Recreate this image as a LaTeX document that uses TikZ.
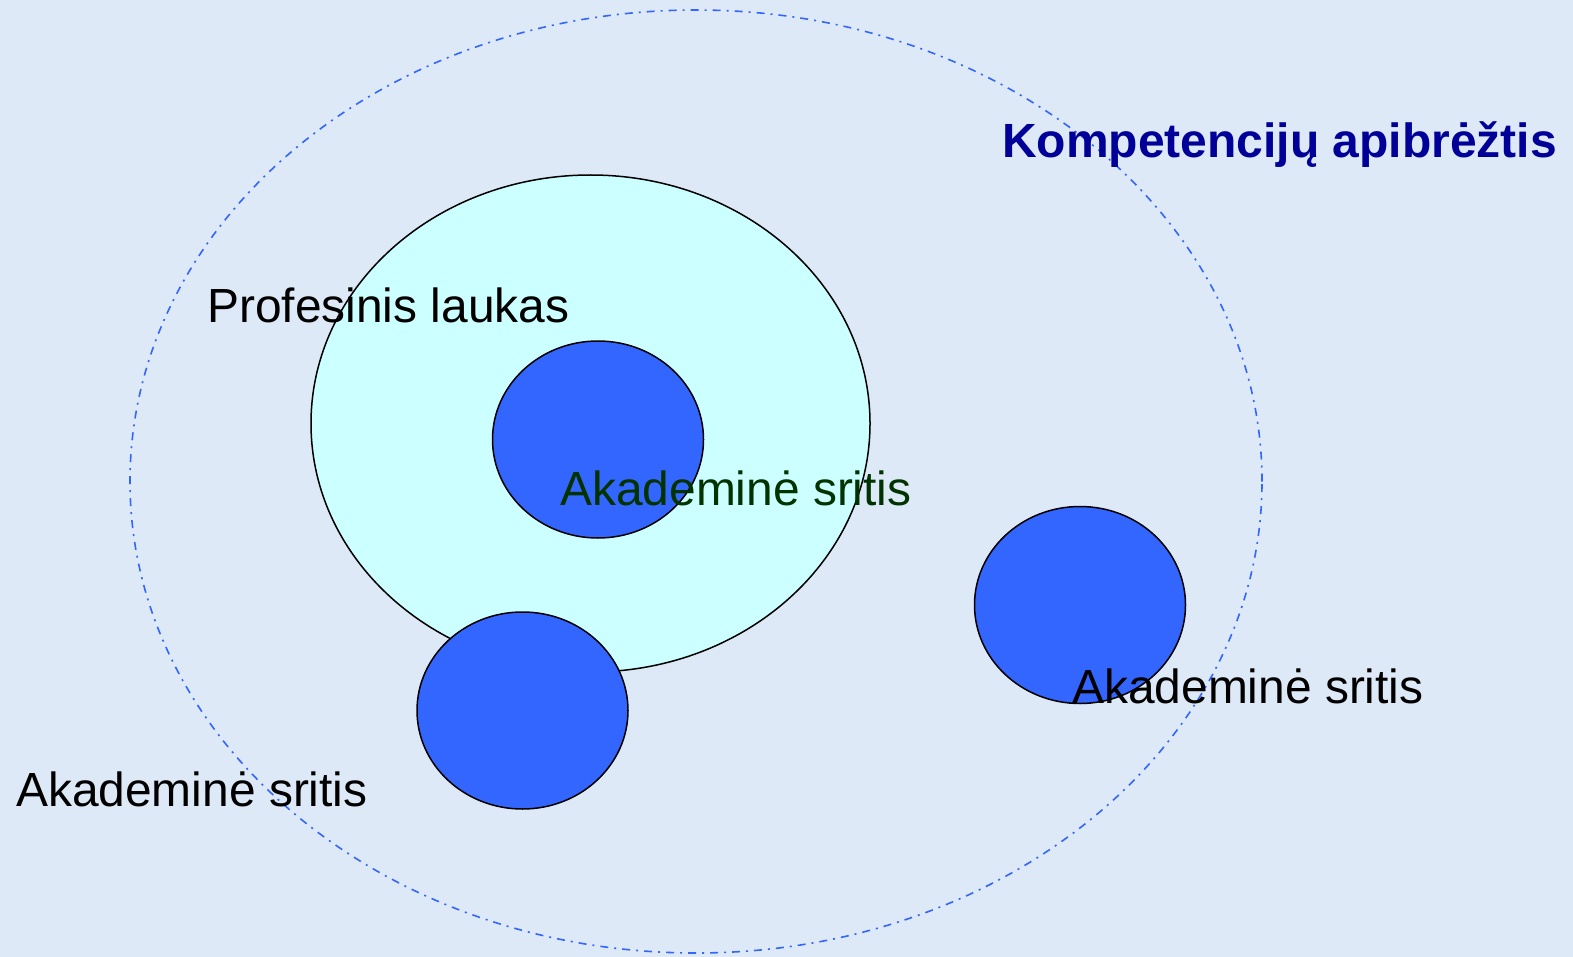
\documentclass[tikz,border=0pt]{standalone}
\usepackage{fontspec}
\setmainfont{Liberation Sans}
\usetikzlibrary{shapes.geometric, positioning}

\definecolor{bgblue}{RGB}{221,233,246}
\definecolor{fieldcyan}{RGB}{204,255,255}
\definecolor{areablue}{RGB}{51,102,255}
\definecolor{titleblue}{RGB}{0,0,153}
\definecolor{labelgreen}{RGB}{0,51,0}

\tikzset{
  area/.style={ellipse, draw=black, line width=1.5pt, fill=areablue,
    minimum width=211pt, minimum height=197pt, inner sep=0pt},
  label/.style={anchor=base west, inner sep=0pt,
    font=\fontsize{47.9}{57}\selectfont}
}

\begin{document}
\begin{tikzpicture}[x=1pt, y=-1pt]
				% Background
				\fill[bgblue] (0,0) rectangle (1573,957);
				
				% Nodes
				\node (field) [ellipse, draw=black, line width=1.5pt, fill=fieldcyan,
				  minimum width=559pt, minimum height=497pt, inner sep=0pt] at (590.5,423.5) {};
				\node (inner) [area] at (598,439.5) {};
				\node (lower) [area] at (522.5,710.5) {};
				\node (outer) [area] at (1080,605) {};
				
				% Competence boundary
				\node (scope) [ellipse, draw=areablue, line width=1.6pt,
				  dash pattern=on 8pt off 6pt on 2pt off 6pt,
				  minimum width=1132pt, minimum height=943pt, inner sep=0pt] at (696,481.5) {};
				
				% Labels
				\node (title) [label, text=titleblue, font=\fontsize{48}{57}\selectfont\bfseries] at (1002,158) {Kompetencijų apibrėžtis};
				\node (fieldlbl) [label] at (207,323) {Profesinis laukas};
				\node (innerlbl) [label, text=labelgreen] at (560,505) {Akademinė sritis};
				\node (lowerlbl) [label] at (16,806) {Akademinė sritis};
				\node (outerlbl) [label] at (1072,703) {Akademinė sritis};
			\end{tikzpicture}
\end{document}
